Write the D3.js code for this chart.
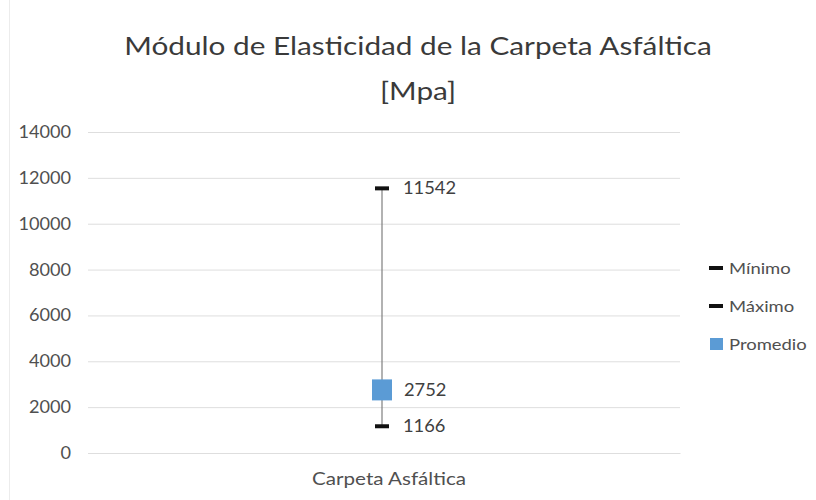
<!DOCTYPE html>
<html><head><meta charset="utf-8">
<script src="https://cdn.jsdelivr.net/npm/d3@7"></script>
<style>body{margin:0;background:#fff}svg{display:block}</style>
</head><body>
<svg id="c" width="816" height="500"></svg>
<script>
const categories = ["Carpeta Asfáltica"];
const minimo = [1166];
const maximo = [11542];
const promedio = [2752];
const yTicks = [0,2000,4000,6000,8000,10000,12000,14000];
const titleLines = ["Módulo de Elasticidad de la Carpeta Asfáltica","[Mpa]"];
const legendItems = [{name:"Mínimo",type:"dash"},{name:"Máximo",type:"dash"},{name:"Promedio",type:"square"}];

(function(){
const svg = d3.select("#c");
const font = "Lato, 'Open Sans', sans-serif";
const pl = 88, pr = 680, pt = 132, pb = 453;
const x = d3.scaleBand().domain(categories).range([pl, pr]);
const y = d3.scaleLinear().domain([0,14000]).range([pb, pt]);

function txt(parent, px, py, s, size, anchor, fill, sx){
  return parent.append("text")
    .attr("transform",`translate(${px},${py}) scale(${sx},1)`)
    .attr("text-anchor",anchor||"start").attr("font-family",font)
    .attr("font-size",size).attr("fill",fill||"#404040").text(s);
}

svg.append("line").attr("x1",9.5).attr("x2",9.5).attr("y1",0).attr("y2",500).attr("stroke","#ececec");

titleLines.forEach((t,i)=>txt(svg, 418, [55,100][i], t, 25, "middle", "#3a3a3a", 1.19));

const yAxis = svg.append("g").attr("transform",`translate(${pl},0)`)
  .call(d3.axisLeft(y).tickValues(yTicks).tickSize(-(pr-pl)).tickFormat(""));
yAxis.select(".domain").remove();
yAxis.selectAll(".tick line").attr("stroke","#dedede");
yTicks.forEach(v=>txt(svg, 71, y(v)+6, d3.format("d")(v), 16.5, "end", "#505050", 1.10));

const xAxis = svg.append("g").attr("transform",`translate(0,${pb})`)
  .call(d3.axisBottom(x).tickSize(0).tickFormat(""));
xAxis.select(".domain").attr("stroke","#dedede");
categories.forEach(c=>txt(svg, x(c)+x.bandwidth()/2+5, 485, c, 16.5, "middle", "#505050", 1.25));

const cx = c => x(c) + x.bandwidth()/2 - 2;
const g = svg.append("g");
categories.forEach((c,i)=>{
  const X = cx(c);
  g.append("line").attr("x1",X).attr("x2",X).attr("y1",y(maximo[i])).attr("y2",y(minimo[i]))
    .attr("stroke","#7f7f7f").attr("stroke-width",1.2);
  [maximo[i],minimo[i]].forEach(v=>{
    g.append("rect").attr("x",X-7).attr("y",y(v)-2).attr("width",14).attr("height",4).attr("fill","#111");
    txt(g, X+21, y(v)+6, v, 16.5, "start", "#404040", 1.11);
  });
  g.append("rect").attr("x",X-10).attr("y",y(promedio[i])-10.5).attr("width",20).attr("height",21)
    .attr("fill","#5b9bd5");
  txt(g, X+22, y(promedio[i])+6, promedio[i], 16.5, "start", "#404040", 1.11);
});

const lg = svg.append("g");
legendItems.forEach((d,i)=>{
  const ly = 268 + i*38;
  if(d.type==="dash") lg.append("rect").attr("x",709).attr("y",ly-2).attr("width",14).attr("height",4).attr("fill","#111");
  else lg.append("rect").attr("x",710).attr("y",ly-6).attr("width",13).attr("height",12).attr("fill","#5b9bd5");
  txt(lg, 729, ly+5.5, d.name, 15.5, "start", "#505050", 1.19);
});
})();
</script>
</body></html>
